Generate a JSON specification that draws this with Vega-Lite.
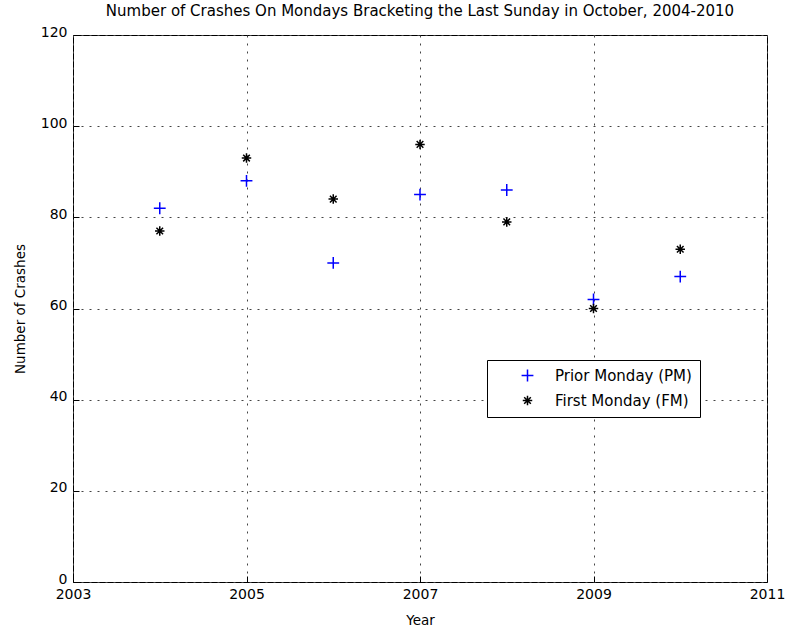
{
  "$schema": "https://vega.github.io/schema/vega-lite/v6.json",
  "width": 694,
  "height": 547,
  "autosize": {"type": "none"},
  "padding": {"left": 73, "top": 35, "right": 19, "bottom": 54},
  "background": "white",
  "title": {
    "text": "Number of Crashes On Mondays Bracketing the Last Sunday in October, 2004-2010",
    "font": "DejaVu Sans",
    "fontSize": 15,
    "fontWeight": "normal",
    "color": "black",
    "offset": 6
  },
  "config": {
    "view": {"stroke": "black", "strokeWidth": 1},
    "axis": {
      "labelFont": "DejaVu Sans",
      "titleFont": "DejaVu Sans",
      "labelFontSize": 14,
      "titleFontSize": 13.5,
      "titleFontWeight": "normal",
      "labelColor": "black",
      "titleColor": "black",
      "labelFlush": false,
      "domain": false,
      "tickColor": "black",
      "tickSize": -6,
      "grid": true,
      "gridColor": "#444",
      "gridDash": [2, 6],
      "gridOpacity": 1
    }
  },
  "data": {
    "values": [
      {"year": 2004, "series": "Prior Monday (PM)", "crashes": 82},
      {"year": 2005, "series": "Prior Monday (PM)", "crashes": 88},
      {"year": 2006, "series": "Prior Monday (PM)", "crashes": 70},
      {"year": 2007, "series": "Prior Monday (PM)", "crashes": 85},
      {"year": 2008, "series": "Prior Monday (PM)", "crashes": 86},
      {"year": 2009, "series": "Prior Monday (PM)", "crashes": 62},
      {"year": 2010, "series": "Prior Monday (PM)", "crashes": 67},
      {"year": 2004, "series": "First Monday (FM)", "crashes": 77},
      {"year": 2005, "series": "First Monday (FM)", "crashes": 93},
      {"year": 2006, "series": "First Monday (FM)", "crashes": 84},
      {"year": 2007, "series": "First Monday (FM)", "crashes": 96},
      {"year": 2008, "series": "First Monday (FM)", "crashes": 79},
      {"year": 2009, "series": "First Monday (FM)", "crashes": 60},
      {"year": 2010, "series": "First Monday (FM)", "crashes": 73}
    ]
  },
  "mark": {"type": "point", "filled": false, "strokeWidth": 1.5, "opacity": 1},
  "encoding": {
    "x": {
      "field": "year",
      "type": "quantitative",
      "scale": {"domain": [2003, 2011], "nice": false, "zero": false},
      "axis": {"values": [2003, 2005, 2007, 2009, 2011], "format": "d", "title": "Year", "labelPadding": 11, "titlePadding": 12}
    },
    "y": {
      "field": "crashes",
      "type": "quantitative",
      "scale": {"domain": [0, 120], "nice": false},
      "axis": {"values": [0, 20, 40, 60, 80, 100, 120], "title": "Number of Crashes", "labelPadding": 12, "titlePadding": 13, "labelOffset": -3}
    },
    "color": {
      "field": "series",
      "type": "nominal",
      "sort": ["Prior Monday (PM)", "First Monday (FM)"],
      "scale": {"domain": ["Prior Monday (PM)", "First Monday (FM)"], "range": ["#0000ff", "#000000"]},
      "legend": {
        "title": null,
        "orient": "none",
        "legendX": 414,
        "legendY": 325,
        "strokeColor": "black",
        "fillColor": "white",
        "padding": 8,
        "symbolOffset": 25,
        "labelFont": "DejaVu Sans",
        "labelFontSize": 15,
        "labelColor": "black",
        "symbolStrokeWidth": 1.5,
        "symbolSize": 120,
        "rowPadding": 7,
        "labelOffset": 20
      }
    },
    "shape": {
      "field": "series",
      "type": "nominal",
      "sort": ["Prior Monday (PM)", "First Monday (FM)"],
      "scale": {"domain": ["Prior Monday (PM)", "First Monday (FM)"], "range": ["M-1,0L1,0M0,-1L0,1", "M-1,0L1,0M0,-1L0,1M-0.7,-0.7L0.7,0.7M-0.7,0.7L0.7,-0.7"]},
      "legend": null
    },
    "size": {
      "field": "series",
      "type": "nominal",
      "scale": {"domain": ["Prior Monday (PM)", "First Monday (FM)"], "range": [140, 90]},
      "legend": null
    }
  }
}
